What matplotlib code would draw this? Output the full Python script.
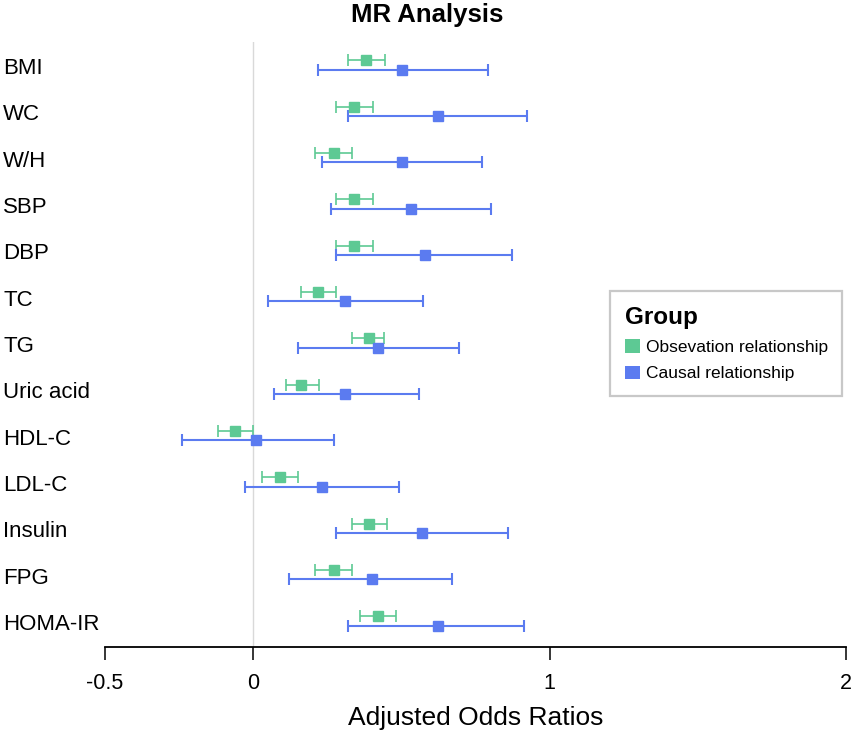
import matplotlib
matplotlib.use("Agg")
import matplotlib.pyplot as plt
import numpy as np
from matplotlib.patches import Patch
from matplotlib.transforms import blended_transform_factory, offset_copy

plt.rcParams["font.family"] = ["Liberation Sans", "DejaVu Sans"]

# Rows, top to bottom
TRAITS = ["BMI", "WC", "W/H", "SBP", "DBP", "TC", "TG", "Uric acid",
          "HDL-C", "LDL-C", "Insulin", "FPG", "HOMA-IR"]

# Observational estimates (point, lower, upper)
OBS_EST = [0.381, 0.341, 0.271, 0.341, 0.341, 0.220, 0.392, 0.161, -0.060, 0.090, 0.392, 0.271, 0.422]
OBS_LO = [0.320, 0.281, 0.210, 0.281, 0.281, 0.160, 0.333, 0.110, -0.119, 0.031, 0.333, 0.210, 0.361]
OBS_HI = [0.443, 0.404, 0.334, 0.404, 0.404, 0.281, 0.442, 0.222, 0.001, 0.151, 0.452, 0.334, 0.483]

# Causal (MR) estimates (point, lower, upper)
MR_EST = [0.502, 0.622, 0.502, 0.531, 0.581, 0.311, 0.422, 0.311, 0.011, 0.231, 0.571, 0.401, 0.622]
MR_LO = [0.220, 0.320, 0.233, 0.261, 0.281, 0.051, 0.151, 0.071, -0.239, -0.029, 0.281, 0.120, 0.320]
MR_HI = [0.792, 0.924, 0.773, 0.802, 0.873, 0.572, 0.693, 0.561, 0.271, 0.492, 0.861, 0.672, 0.913]

X_TICKS = [-0.5, 0, 1, 2]
X_TICK_LABELS = ["-0.5", "0", "1", "2"]

GREEN = "#5DC994"
BLUE = "#5B7BF0"
OFFSET = 0.1


def draw_series(ax, y, est, lo, hi, color, lw):
    est = np.asarray(est)
    err = [est - np.asarray(lo), np.asarray(hi) - est]
    ax.errorbar(est, y, xerr=err, fmt="s", color=color, ecolor=color,
                markersize=7.5, elinewidth=lw, capsize=4, capthick=lw,
                zorder=3)


W, H = 855, 734
fig = plt.figure(figsize=(W / 100, H / 100), dpi=100)
ax = fig.add_axes([105 / W, (H - 647) / H, 741 / W, (647 - 42) / H])

rows = np.arange(len(TRAITS))
draw_series(ax, rows - OFFSET, OBS_EST, OBS_LO, OBS_HI, GREEN, 1.2)
draw_series(ax, rows + OFFSET, MR_EST, MR_LO, MR_HI, BLUE, 1.5)

ax.axvline(0, color="#d9d9d9", linewidth=1.0, zorder=1)

ax.set_xlim(-0.5, 2)
ax.set_ylim(12.56, -0.496)

for side in ["top", "right", "left"]:
    ax.spines[side].set_visible(False)
ax.spines["bottom"].set_bounds(-0.5, 2)
ax.spines["bottom"].set_linewidth(1.3)
ax.set_yticks([])
ax.set_xticks(X_TICKS, X_TICK_LABELS)
ax.tick_params(axis="x", direction="out", length=9.5, width=1.1,
               labelsize=15.5, pad=9)
ax.set_xlabel("Adjusted Odds Ratios", fontsize=19, labelpad=9)

# category labels flush to the left edge of the figure
trans = blended_transform_factory(fig.transFigure, ax.transData)
trans = offset_copy(trans, fig=fig, y=-3.5, units="dots")
for i, name in enumerate(TRAITS):
    ax.text(3 / W, i, name, transform=trans, ha="left", va="center",
            fontsize=16)

fig.text(0.5, 1 - 15 / H, "MR Analysis", ha="center", va="center",
         fontsize=18.5, fontweight="bold")

handles = [Patch(facecolor=GREEN, edgecolor="none", label="Obsevation relationship"),
           Patch(facecolor=BLUE, edgecolor="none", label="Causal relationship")]
leg = ax.legend(handles=handles, title="Group", loc="upper left",
                bbox_to_anchor=(610 / W, 1 - 291 / H),
                bbox_transform=fig.transFigure, borderaxespad=0,
                fontsize=12.5,
                title_fontproperties={"size": 17.5, "weight": "bold"},
                alignment="left", fancybox=False, framealpha=1,
                handlelength=0.85, handleheight=0.85, handletextpad=0.35,
                labelspacing=0.6, borderpad=0.85)
leg.get_frame().set_edgecolor("#c8c8c8")
leg.get_frame().set_linewidth(1.6)

fig.savefig("out.png", dpi=100)
